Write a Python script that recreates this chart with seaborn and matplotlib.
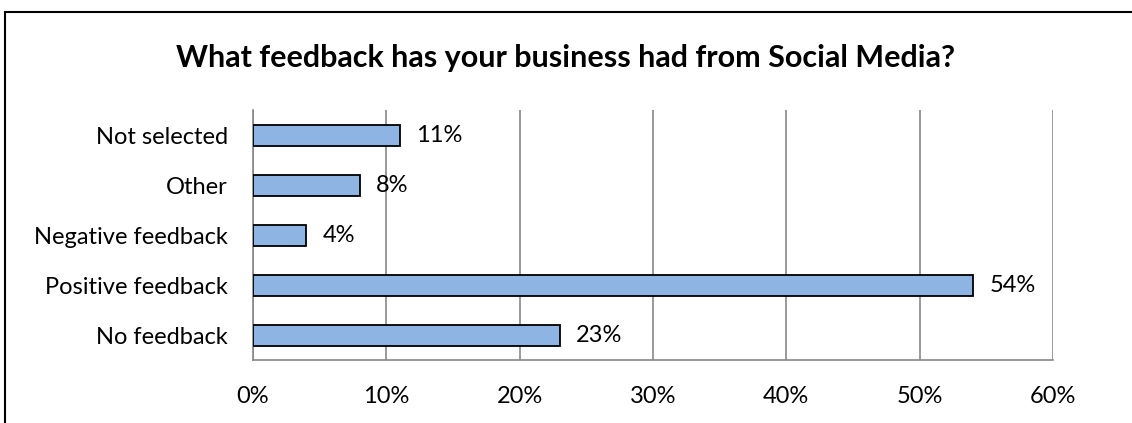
import matplotlib
matplotlib.use("Agg")
import matplotlib.pyplot as plt
import matplotlib.patches as mpatches
from matplotlib.ticker import FuncFormatter
import seaborn as sns
import pandas as pd

categories = ["Not selected", "Other", "Negative feedback", "Positive feedback", "No feedback"]
values = [11, 8, 4, 54, 23]
x_ticks = [0, 10, 20, 30, 40, 50, 60]
title = "What feedback has your business had from Social Media?"

sns.set_theme(style="white")
plt.rcParams['font.family'] = ['Lato', 'DejaVu Sans']

W, H = 1132, 423
fig = plt.figure(figsize=(W / 100, H / 100), dpi=100)
ax = fig.add_axes([253 / W, 1 - 360 / H, 800 / W, 250 / H])

df = pd.DataFrame({"category": categories, "value": values})
sns.barplot(data=df, x="value", y="category", order=categories, orient="h",
            color="#8EB4E3", saturation=1, width=0.42,
            edgecolor="black", linewidth=1.3, ax=ax, zorder=3)

ax.set_xlim(0, 60)
ax.set_xticks(x_ticks)
ax.xaxis.set_major_formatter(FuncFormatter(lambda v, p: f"{v:.0f}%"))
ax.set_xlabel("")
ax.set_ylabel("")
ax.grid(axis="x", color="#878787", linewidth=1.2, zorder=0)
ax.grid(axis="y", visible=False)
for s in ["top", "right"]:
    ax.spines[s].set_visible(False)
for s in ["left", "bottom"]:
    ax.spines[s].set_color("#878787")
    ax.spines[s].set_linewidth(1.2)
ax.tick_params(axis="both", length=0, labelsize=17, colors="black")
ax.tick_params(axis="y", pad=18)
ax.tick_params(axis="x", pad=18.5)

for i, v in enumerate(values):
    ax.annotate(f"{v}%", xy=(v, i), xytext=(12, 0), textcoords="offset points",
                va="center", ha="left", fontsize=17, color="black")

fig.text(0.5, 1 - 58 / H, title, ha="center", va="center",
         fontsize=22, fontweight="bold", color="black")

border = mpatches.Rectangle((5 / W, -0.05), 1.05, 1 - 12 / H + 0.05,
                            transform=fig.transFigure, fill=False,
                            edgecolor="black", linewidth=1.5, clip_on=False)
fig.patches.append(border)

fig.savefig("out.png", dpi=100)
